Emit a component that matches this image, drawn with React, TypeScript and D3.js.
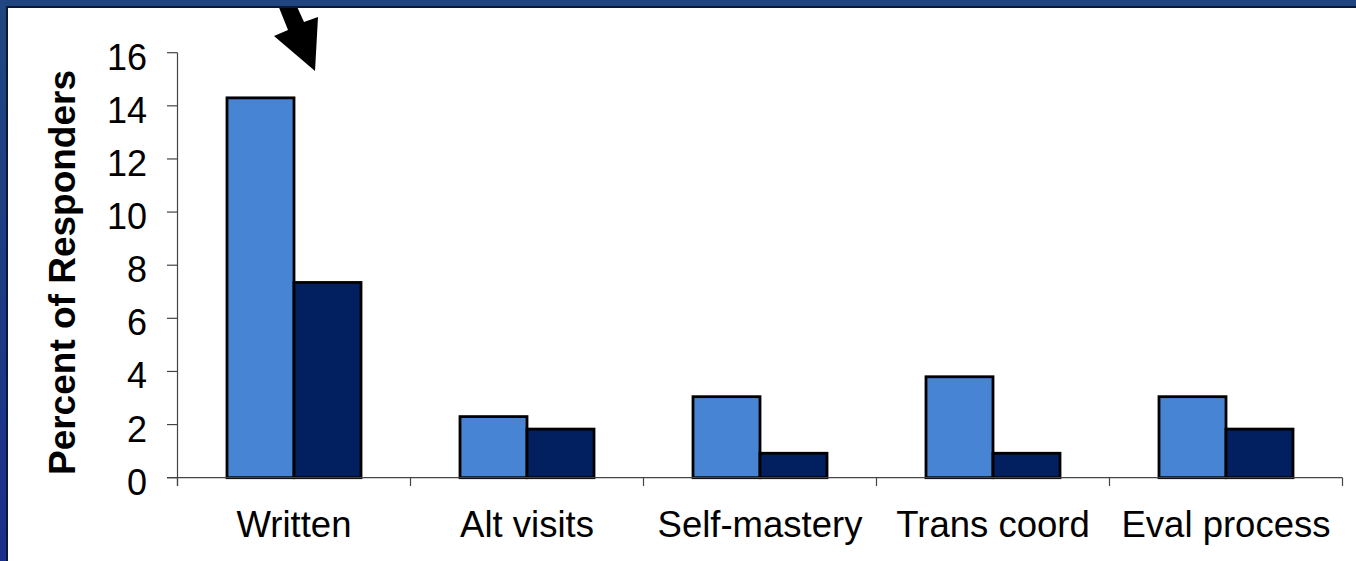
import React from "react";
import * as d3 from "d3";

const categories = ["Written", "Alt visits", "Self-mastery", "Trans coord", "Eval process"];
const seriesA = [14.3, 2.3, 3.05, 3.8, 3.05];
const seriesB = [7.35, 1.83, 0.92, 0.92, 1.83];
const yTicks = [0, 2, 4, 6, 8, 10, 12, 14, 16];
const yLabel = "Percent of Responders";

const W = 1356;
const H = 561;
const FONT = "'Liberation Sans', Arial, Helvetica, sans-serif";

export default function App() {
  const x0 = 177.5;
  const x1 = 1342.5;
  const yZero = 477.7;
  const yTop = 52.7;

  const x = d3.scaleBand<string>().domain(categories).range([x0, x1]).paddingInner(0).paddingOuter(0);
  const y = d3.scaleLinear().domain([0, 16]).range([yZero, yTop]);
  const barW = 67;
  const sub = d3.scaleBand<string>().domain(["A", "B"]).range([0, barW * 2]);

  const series = [
    { key: "A", values: seriesA, color: "#4784D4" },
    { key: "B", values: seriesB, color: "#02205F" },
  ];

  const catTicks = [...categories.map((c) => x(c)!), x1];

  return (
    <svg width={W} height={H} style={{ position: "absolute", left: 0, top: 0, background: "#fff" }}>
      <defs>
        <linearGradient id="lb" x1="0" y1="0" x2="0" y2="1">
          <stop offset="0" stopColor="#22467f" />
          <stop offset="1" stopColor="#1a308c" />
        </linearGradient>
      </defs>
      <rect x={0} y={0} width={W} height={H} fill="#fff" />

      {/* arrow annotation */}
      <polygon
        points="276,0 294,0 304,22 318,17 315,71 274,36 288,30"
        fill="#000"
      />

      {/* bars */}
      {series.map((s) =>
        categories.map((c, i) => {
          const bx = x(c)! + (x.bandwidth() - barW * 2) / 2 + sub(s.key)!;
          const v = s.values[i];
          return (
            <rect
              key={s.key + c}
              x={bx}
              y={y(v)}
              width={barW}
              height={yZero - y(v)}
              fill={s.color}
              stroke="#000"
              strokeWidth={2.8}
            />
          );
        })
      )}

      {/* axes */}
      <line x1={x0} x2={x0} y1={yTop} y2={486} stroke="#444" strokeWidth={1.2} />
      <line x1={167} x2={x1} y1={yZero} y2={yZero} stroke="#444" strokeWidth={1.2} />
      {yTicks.map((t) => (
        <g key={t}>
          <line x1={167} x2={x0} y1={y(t)} y2={y(t)} stroke="#444" strokeWidth={1.2} />
          <text x={147} y={y(t) + 17} textAnchor="end" fontFamily={FONT} fontSize={36} fill="#000">
            {t}
          </text>
        </g>
      ))}
      {catTicks.map((t, i) => (
        <line key={i} x1={t} x2={t} y1={yZero} y2={486} stroke="#444" strokeWidth={1.2} />
      ))}
      {categories.map((c) => (
        <text
          key={c}
          x={x(c)! + x.bandwidth() / 2}
          y={537}
          textAnchor="middle"
          fontFamily={FONT}
          fontSize={36.5}
          fill="#000"
        >
          {c}
        </text>
      ))}
      <text
        transform={`translate(75,272.5) rotate(-90)`}
        textAnchor="middle"
        fontFamily={FONT}
        fontSize={37}
        fontWeight="bold"
        fill="#000"
      >
        {yLabel}
      </text>

      {/* frame */}
      <rect x={0} y={0} width={W} height={6} fill="#21457f" />
      <rect x={0} y={6} width={W} height={2} fill="#0c1834" />
      <rect x={0} y={0} width={6} height={H} fill="url(#lb)" />
      <rect x={6} y={6} width={2} height={H - 6} fill="#0c1834" />
    </svg>
  );
}
